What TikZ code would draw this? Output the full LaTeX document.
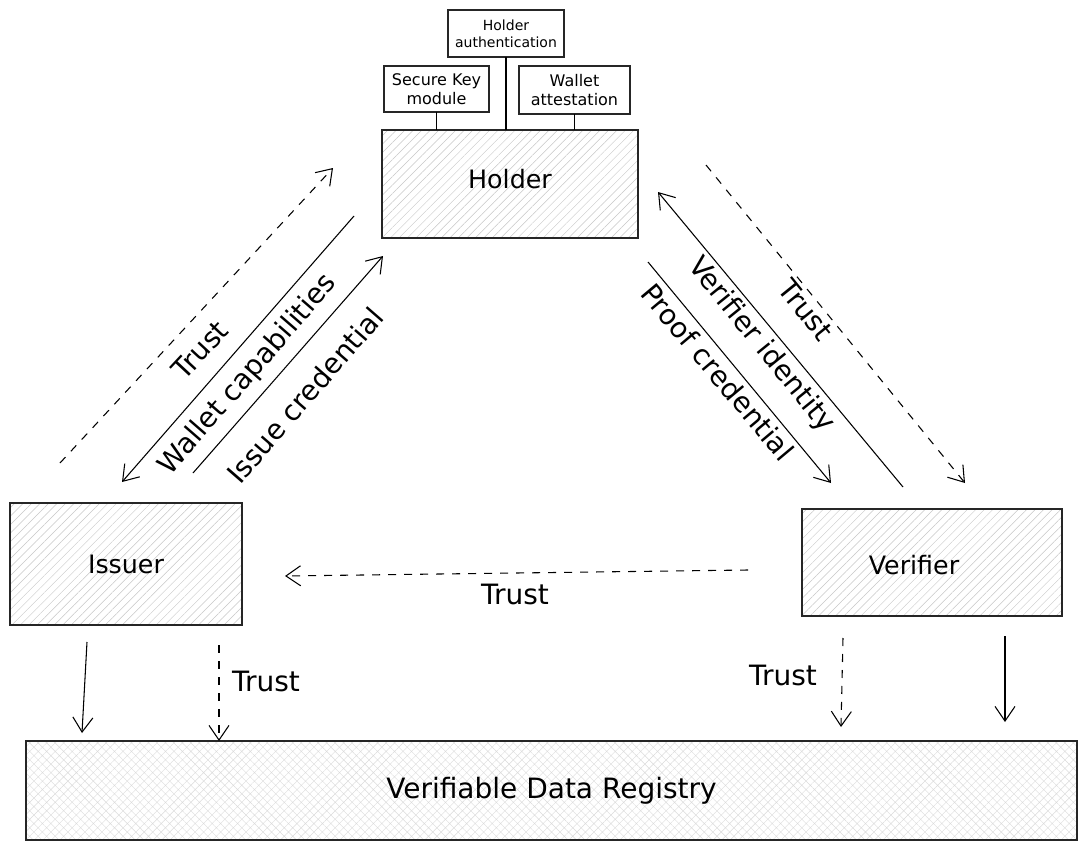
\documentclass[tikz,border=0pt]{standalone}
\usepackage{fontspec}
\setmainfont{DejaVu Sans}
\usetikzlibrary{arrows.meta,patterns.meta}

\tikzset{
  party/.style={draw=black!85, line width=1.1pt, inner sep=0pt, outer sep=0pt,
    preaction={fill=white}, pattern={Lines[angle=45,distance=4.5pt,line width=0.35pt]},
    pattern color=black!22, font=\fontsize{19}{23}\selectfont},
  registry/.style={party, pattern={Hatch[angle=45,distance=4.5pt,line width=0.3pt]},
    pattern color=black!14, font=\fontsize{21}{25}\selectfont},
  modulebox/.style={draw=black!85, line width=0.9pt, fill=white, inner sep=0pt,
    outer sep=0pt, align=center, font=\fontsize{12}{14}\selectfont},
  flow/.style={line width=0.8pt, -{Straight Barb[length=11pt,width=15pt]}},
  trustflow/.style={flow, dash pattern=on 6pt off 6pt},
  flowlabel/.style={font=\fontsize{21}{25}\selectfont}
}

\begin{document}
\begin{tikzpicture}[x=0.75pt, y=-0.75pt]
  \useasboundingbox (0,0) rectangle (1086,849);

  % main parties
  \node[party, minimum width=192pt, minimum height=81pt] (holder) at (510,184) {};
  \node (holdertext) at (510,179) {\fontsize{19}{23}\selectfont Holder};
  \node[party, minimum width=174pt, minimum height=91.5pt] (issuer) at (126,564) {Issuer};
  \node[party, minimum width=195pt, minimum height=80.25pt] (verifier) at (932,562.5) {};
  \node (verifiertext) at (914,565) {\fontsize{19}{23}\selectfont Verifier};
  \node[registry, minimum width=788.25pt, minimum height=74.25pt] (vdr) at (551.5,790.5) {Verifiable Data Registry};

  % wallet components
  \node[modulebox, minimum width=87pt, minimum height=35.25pt,
        font=\fontsize{10.5}{12.5}\selectfont] (auth) at (506,33.5) {Holder\\authentication};
  \node[modulebox, minimum width=78.75pt, minimum height=34.5pt] (skm) at (436.5,89) {Secure Key\\module};
  \node[modulebox, minimum width=83.25pt, minimum height=36pt] (watt) at (574.5,90) {Wallet\\attestation};
  \draw[line width=0.9pt] (skm.south) -- (skm.south |- holder.north);
  \draw[line width=0.9pt] (auth.south) -- (auth.south |- holder.north);
  \draw[line width=0.9pt] (watt.south) -- (watt.south |- holder.north);

  % arrow ends
  \coordinate (tl1) at (60,463);   \coordinate (tl2) at (333,168);
  \coordinate (wc1) at (354,216);  \coordinate (wc2) at (122,482);
  \coordinate (ic1) at (193,473);  \coordinate (ic2) at (383,256);
  \coordinate (vi1) at (903,487);  \coordinate (vi2) at (658,192);
  \coordinate (pc1) at (648,262);  \coordinate (pc2) at (831,483);
  \coordinate (tr1) at (706,165);  \coordinate (tr2) at (965,483);
  \coordinate (th1) at (748,570);  \coordinate (th2) at (285,576);
  \coordinate (ir1) at (87,642);   \coordinate (ir2) at (82,733);
  \coordinate (it1) at (219,645);  \coordinate (it2) at (219,741);
  \coordinate (vt1) at (843,638);  \coordinate (vt2) at (841,727);
  \coordinate (vr1) at (1005,636); \coordinate (vr2) at (1005,722);

  % issuer <-> holder
  \draw[trustflow] (tl1) -- (tl2);
  \draw[flow] (wc1) -- (wc2);
  \draw[flow] (ic1) -- (ic2);
  \node[flowlabel, rotate=47] (tllabel) at (200,350) {Trust};
  \node[flowlabel, rotate=49] (wclabel) at (248,375) {Wallet capabilities};
  \node[flowlabel, rotate=49] (iclabel) at (305,395) {Issue credential};

  % holder <-> verifier
  \draw[flow] (vi1) -- (vi2);
  \draw[flow] (pc1) -- (pc2);
  \draw[trustflow] (tr1) -- (tr2);
  \node[flowlabel, rotate=-51] (trlabel) at (806,310) {Trust};
  \node[flowlabel, rotate=-51] (vilabel) at (761,345) {Verifier identity};
  \node[flowlabel, rotate=-50] (pclabel) at (718,372) {Proof credential};

  % verifier -> issuer
  \draw[trustflow] (th1) -- (th2);
  \node[flowlabel] (thlabel) at (515,594) {Trust};

  % registry
  \draw[flow] (ir1) -- (ir2);
  \draw[trustflow] (it1) -- (it2);
  \node[flowlabel] (itlabel) at (266,681) {Trust};
  \draw[trustflow] (vt1) -- (vt2);
  \node[flowlabel] (vtlabel) at (783,675) {Trust};
  \draw[flow] (vr1) -- (vr2);
\end{tikzpicture}
\end{document}
